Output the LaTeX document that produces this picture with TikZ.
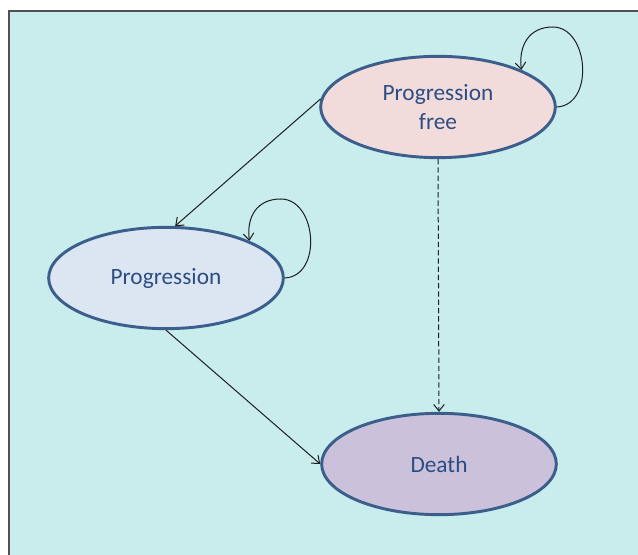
\documentclass[tikz,border=0pt]{standalone}
\usepackage{fontspec}
\setmainfont{Carlito}
\usetikzlibrary{shapes.geometric,arrows.meta,calc}
\definecolor{bgcyan}{RGB}{200,237,236}
\definecolor{framegray}{RGB}{80,80,80}
\definecolor{edgeblue}{RGB}{59,94,140}
\definecolor{txtblue}{RGB}{44,77,132}
\definecolor{pffill}{RGB}{242,220,219}
\definecolor{prfill}{RGB}{220,230,242}
\definecolor{dfill}{RGB}{204,193,218}
\definecolor{arrowgray}{RGB}{30,30,30}
\tikzset{
  statebox/.style={ellipse, draw=edgeblue, line width=2.2pt, inner sep=0pt,
    minimum width=176pt, minimum height=76pt, text=txtblue,
    font=\fontsize{17.5}{22}\selectfont, align=center},
  trans/.style={draw=arrowgray, line width=0.75pt,
    -{Straight Barb[length=5pt,width=8pt]}},
}
\begin{document}
\begin{tikzpicture}[x=0.75pt,y=-0.75pt]
\useasboundingbox (0,0) rectangle (638,555);
\fill[white] (0,0) rectangle (638,555);
\fill[bgcyan] (9,11) rectangle (640,557);
\draw[framegray, line width=1.4pt] (9,560) -- (9,11) -- (642,11);
\node[statebox, fill=pffill] (pf) at (438,107) {Progression\\free};
\node[statebox, fill=prfill] (pr) at (166,278) {Progression};
\node[statebox, fill=dfill] (dt) at (439,464) {Death};
\draw[trans] (pf.176) -- (pr.80);
\draw[trans] (pr.south) -- (dt.west);
\draw[trans, dash pattern=on 4pt off 2.2pt] (pf.south) -- (dt.north);
\coordinate (pftop) at ([shift={(-4,-80)}]pf.east);
\coordinate (prtop) at ([shift={(-4,-79)}]pr.east);
\draw[trans] (pf.east) .. controls +(38,-2) and +(36,0) .. (pftop)
  .. controls +(-24,0) and +(-3,-24) .. (pf.24);
\draw[trans] (pr.east) .. controls +(38,-2) and +(36,0) .. (prtop)
  .. controls +(-24,0) and +(-3,-24) .. (pr.24);
\end{tikzpicture}
\end{document}
